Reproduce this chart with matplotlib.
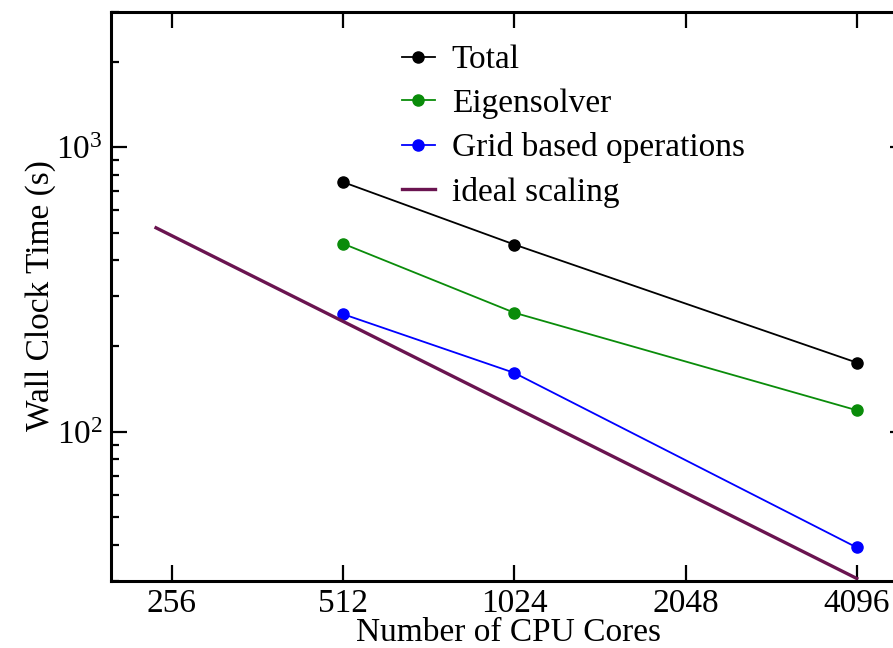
import matplotlib
matplotlib.use("Agg")
import matplotlib.pyplot as plt
from matplotlib.ticker import FixedLocator, FixedFormatter, LogLocator, NullLocator, NullFormatter

plt.rcParams['font.family'] = ['Liberation Serif', 'DejaVu Serif']
plt.rcParams['mathtext.fontset'] = 'custom'
plt.rcParams['mathtext.rm'] = 'Liberation Serif'
plt.rcParams['mathtext.it'] = 'Liberation Serif:italic'
plt.rcParams['mathtext.bf'] = 'Liberation Serif:bold'

cores = [512, 1024, 4096]
total = [754, 455, 175]
eigensolver = [458, 262, 119]
grid_ops = [259, 161, 39.2]
ideal_x = [240, 4096]
ideal_y = [521, 30.5]
xticks = [256, 512, 1024, 2048, 4096]
xticklabels = ['256', '512', '1024', '2048', '4096']

FS = 24

fig = plt.figure(figsize=(8.93, 6.48), dpi=100)
W, H = 893, 648
left_px, right_px, top_px, bot_px = 111, 906, 11.5, 580.5
ax = fig.add_axes([left_px / W, 1 - bot_px / H, (right_px - left_px) / W, (bot_px - top_px) / H])

ax.set_xscale('log', base=2)
ax.set_yscale('log')

ax.plot(cores, total, '-o', color='black', lw=1.3, ms=8, label='Total')
ax.plot(cores, eigensolver, '-o', color='#0a8c0a', lw=1.3, ms=8, label='Eigensolver')
ax.plot(cores, grid_ops, '-o', color='#0000ff', lw=1.3, ms=8, label='Grid based operations')
ax.plot(ideal_x, ideal_y, '-', color='#6a1450', lw=2.4, label='ideal scaling')

ax.set_xlim(200, 5000)
ax.set_ylim(30, 3000)

ax.xaxis.set_major_locator(FixedLocator(xticks))
ax.xaxis.set_major_formatter(FixedFormatter(xticklabels))
ax.xaxis.set_minor_locator(NullLocator())
ax.yaxis.set_major_locator(LogLocator(base=10, numticks=10))
ax.yaxis.set_minor_locator(LogLocator(base=10, subs=range(2, 10), numticks=20))
ax.yaxis.set_minor_formatter(NullFormatter())

ax.tick_params(which='major', direction='in', length=11.5, width=1.6,
               top=True, right=True, labelsize=FS, pad=6)
ax.tick_params(which='minor', direction='in', length=6, width=1.6,
               top=True, right=True)
for s in ax.spines.values():
    s.set_linewidth(2.2)

ax.set_xlabel('Number of CPU Cores', fontsize=FS, labelpad=-1)
ax.set_ylabel('Wall Clock Time (s)', fontsize=FS, labelpad=0)

leg = ax.legend(loc='upper left', bbox_to_anchor=(0.349, 0.965), frameon=False,
                fontsize=FS, handlelength=1.0, handletextpad=0.5,
                labelspacing=0.4, borderaxespad=0)

fig.savefig('out.png', dpi=100)
